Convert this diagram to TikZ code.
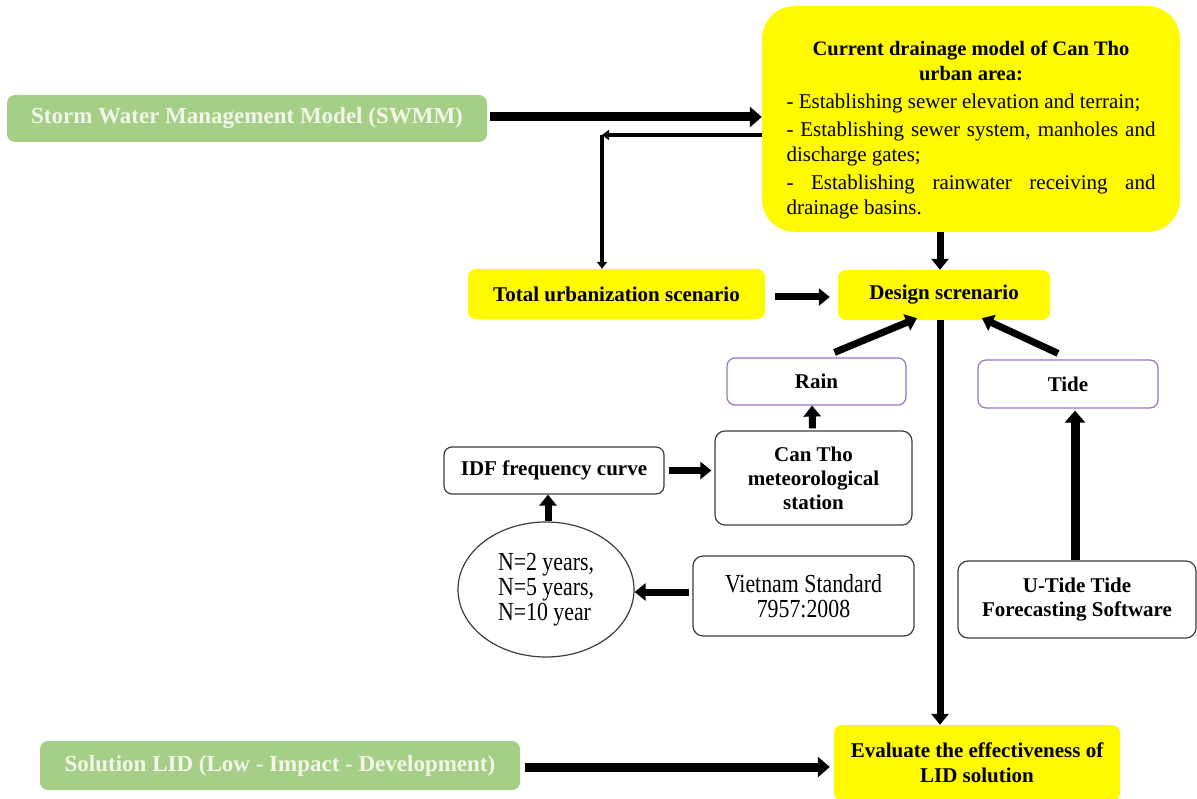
\documentclass[tikz,border=0pt]{standalone}
\usepackage{fontspec}
\setmainfont{Liberation Serif}
\newfontfamily\condfont{Liberation Serif}[FakeStretch=0.84]
\usetikzlibrary{arrows.meta,calc,shapes.geometric}
\definecolor{lgreen}{RGB}{165,207,134}
\definecolor{gtext}{RGB}{243,246,232}
\definecolor{yel}{RGB}{255,250,0}
\definecolor{purp}{RGB}{150,115,200}
\definecolor{bord}{RGB}{60,60,60}
\begin{document}
\begin{tikzpicture}[x=1pt,y=-1pt,
  greenbox/.style={fill=lgreen, rounded corners=8pt, text=gtext, font=\fontsize{23}{26}\selectfont\bfseries, inner sep=0pt},
  yelbox/.style={fill=yel, rounded corners=8pt, font=\fontsize{21}{25}\selectfont\bfseries, inner sep=0pt, align=center},
  purpbox/.style={draw=purp, line width=1.2pt, fill=white, rounded corners=8pt, font=\fontsize{21}{25}\selectfont\bfseries, inner sep=0pt},
  graybox/.style={draw=bord, line width=1.2pt, rounded corners=10pt, font=\fontsize{21}{24}\selectfont\bfseries, inner sep=0pt, align=center},
  condtext/.style={font=\condfont\fontsize{26}{25}\selectfont},
  arr/.style={line width=7pt, -{Triangle[length=11pt,width=17pt]}},
  bigarr/.style={line width=9pt, -{Triangle[length=12pt,width=20pt]}},
  medarr/.style={line width=4pt, -{Triangle[length=7pt,width=10pt]}},
]
\useasboundingbox (0,0) rectangle (1197,799);

% nodes
\node[greenbox, minimum width=480pt, minimum height=47pt] (swmm) at (247,118.5) {Storm Water Management Model (SWMM)};
\node[fill=yel, rounded corners=33pt, minimum width=418pt, minimum height=226pt, inner sep=0pt,
      text width=369pt, align=justify, font=\fontsize{21}{25}\selectfont] (top) at (971,119)
  {{\centering\fontsize{20.5}{25}\selectfont\bfseries \rule{0pt}{36pt}Current drainage model of Can Tho\par urban area:\par}
   \parskip=3pt
   - Establishing sewer elevation and terrain;\par
   - Establishing sewer system, manholes and\linebreak discharge gates;\par
   - Establishing rainwater receiving and\linebreak drainage basins.\par};
\node[yelbox, minimum width=297pt, minimum height=50pt] (total) at (616.5,294) {Total urbanization scenario};
\node[yelbox, minimum width=212pt, minimum height=50pt] (design) at (944,295) {Design screnario};
\node[purpbox, minimum width=179pt, minimum height=47pt] (rain) at (816.5,381.5) {Rain};
\node[purpbox, minimum width=180pt, minimum height=48pt] (tide) at (1068,384) {Tide};
\node[graybox, minimum width=197pt, minimum height=94pt] (canth) at (813.5,478) {Can Tho\\meteorological\\station};
\node[graybox, minimum width=220pt, minimum height=47pt, rounded corners=8pt] (idf) at (554,470.5) {IDF frequency curve};
\node[draw=bord, ellipse, line width=1.2pt, minimum width=176pt, minimum height=135pt, inner sep=0pt,
      align=left, condtext] (circ) at (546,589.5) {N=2 years,\\N=5 years,\\N=10 year};
\node[graybox, minimum width=221pt, minimum height=80pt, condtext] (viet) at (803.5,596) {Vietnam Standard\\7957:2008};
\node[graybox, minimum width=238pt, minimum height=77pt] (utide) at (1077,599.5) {U-Tide Tide\\Forecasting Software};
\node[greenbox, minimum width=480pt, minimum height=49pt] (lid) at (280,765.5) {Solution LID (Low - Impact - Development)};
\node[yelbox, minimum width=286pt, minimum height=76pt] (eval) at (977,763) {Evaluate the effectiveness of\\LID solution};

% connectors
\draw[bigarr] ([xshift=3pt]swmm.east |- 0,117) -- (top.west |- 0,117);
\coordinate (fb) at (top.west |- 0,135);
\coordinate (fbc) at (602,135);
\draw[medarr] (fb) -- (fbc);
\draw[medarr] (fbc) -- (fbc |- total.north);
\draw[arr] ([xshift=10pt]total.east |- 0,297) -- ([xshift=-8pt]design.west |- 0,297);
\draw[arr] (940,0 |- top.south) -- (940,0 |- design.north);
\draw[arr] ($(rain.north)+(18,-5)$) -- ($(design.south)+(-27,-2)$);
\draw[arr] ($(tide.north)+(-10,-6)$) -- ($(design.south)+(38,-2)$);
\draw[arr] (940,0 |- design.south) -- (940,0 |- eval.north);
\draw[arr] ($(canth.north)+(-1,-2)$) -- (rain.south -| 812,0);
\draw[arr] ([xshift=4pt]idf.east) -- ([xshift=-3pt]canth.west |- idf.east);
\draw[arr] ($(circ.north)+(2,0)$) -- (idf.south -| 548,0);
\draw[arr] ([xshift=-3pt]viet.west |- 0,592) -- (circ.east |- 0,592);
\draw[bigarr] (utide.north -| 1075,0) -- ([yshift=-2pt]tide.south -| 1075,0);
\draw[bigarr] ([xshift=5pt]lid.east |- 0,767) -- ([xshift=-4pt]eval.west |- 0,767);
\end{tikzpicture}
\end{document}
